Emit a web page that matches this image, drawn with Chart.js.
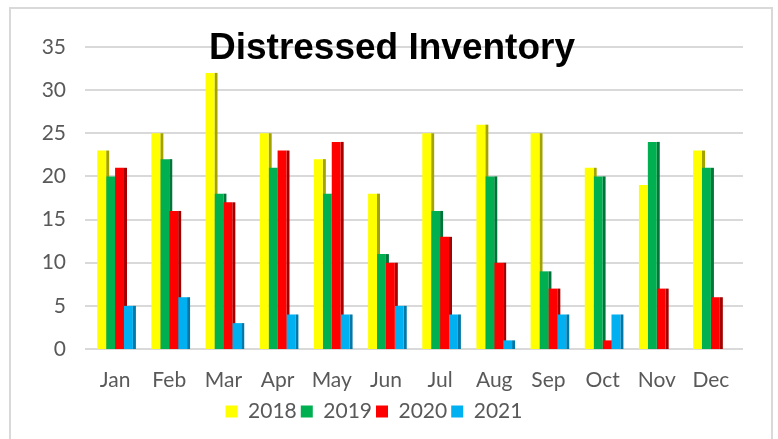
<!DOCTYPE html>
<html>
<head>
<meta charset="utf-8">
<script src="https://cdn.jsdelivr.net/npm/chart.js@4.4.1/dist/chart.umd.min.js"></script>
<style>
  html, body { margin: 0; padding: 0; background: #fff; }
  #wrap { width: 778px; height: 439px; position: relative; }
</style>
</head>
<body>
<div id="wrap"><canvas id="distChart" width="778" height="439"></canvas></div>
<script>
const months = ['Jan', 'Feb', 'Mar', 'Apr', 'May', 'Jun', 'Jul', 'Aug', 'Sep', 'Oct', 'Nov', 'Dec'];
const years = ['2018', '2019', '2020', '2021'];
const y2018 = [23, 25, 32, 25, 22, 18, 25, 26, 25, 21, 19, 23];
const y2019 = [20, 22, 18, 21, 18, 11, 16, 20, 9, 20, 24, 21];
const y2020 = [21, 16, 17, 23, 24, 10, 13, 10, 7, 1, 7, 6];
const y2021 = [5, 6, 3, 4, 4, 5, 4, 1, 4, 4, null, null];
const yTicks = [0, 5, 10, 15, 20, 25, 30, 35];

const fronts = ['#ffff00', '#00b050', '#ff0000', '#00b0f0'];
const sides = ['#a3a300', '#00753a', '#a30000', '#0078a8'];
const labelFont = { family: 'Lato', size: 21 };
const gray = '#595959';

// frame + gridlines + 3d side faces, drawn behind the bars
const backdrop = {
    id: 'backdrop',
    beforeDraw(chart) {
        const c = chart.ctx;
        c.save();
        c.strokeStyle = '#d9d9d9';
        c.lineWidth = 2;
        c.strokeRect(10, 8, 762, 440);
        c.restore();
    },
    beforeDatasetsDraw(chart) {
        const c = chart.ctx;
        const ys = chart.scales.y;
        const area = chart.chartArea;
        c.save();
        c.strokeStyle = '#d9d9d9';
        c.lineWidth = 2;
        yTicks.forEach(t => {
            const py = Math.round(ys.getPixelForValue(t));
            c.beginPath();
            c.moveTo(area.left - 3, py);
            c.lineTo(area.right + 5, py);
            c.stroke();
        });
        chart.data.datasets.forEach((ds, i) => {
            const meta = chart.getDatasetMeta(i);
            c.fillStyle = sides[i];
            meta.data.forEach((bar, j) => {
                if (ds.data[j] == null) return;
                const p = bar.getProps(['x', 'y', 'width', 'base'], true);
                const r = p.x + p.width / 2;
                c.fillRect(r, p.y, 3, p.base - p.y);
            });
        });
        c.restore();
    },
    afterDatasetsDraw(chart) {
        const c = chart.ctx;
        c.save();
        c.fillStyle = '#000';
        c.font = 'bold 37px "Liberation Sans", Arial, sans-serif';
        c.textAlign = 'center';
        c.textBaseline = 'middle';
        c.fillText('Distressed Inventory', 392, 49);
        c.restore();
    }
};

const ctx = document.getElementById('distChart').getContext('2d');

const distChart = new Chart(ctx, {
    type: 'bar',
    data: {
        labels: months,
        datasets: [y2018, y2019, y2020, y2021].map((d, i) => ({
            label: years[i],
            data: d,
            backgroundColor: fronts[i],
            borderWidth: 0,
            barPercentage: 1,
            categoryPercentage: 0.658
        }))
    },
    options: {
        responsive: false,
        animation: false,
        layout: { padding: { left: 10, right: 40, top: 47, bottom: 7 } },
        scales: {
            x: {
                afterFit: s => { s.height = 48; },
                grid: { display: false, drawTicks: false },
                border: { display: false },
                ticks: { color: gray, font: labelFont, padding: 19, maxRotation: 0 }
            },
            y: {
                min: 0,
                max: 35,
                afterFit: s => { s.width = 78; },
                grid: { display: false, drawTicks: false },
                border: { display: false },
                ticks: { stepSize: 5, color: gray, font: labelFont, padding: 22 }
            }
        },
        plugins: {
            legend: {
                position: 'bottom',
                labels: {
                    color: gray,
                    font: labelFont,
                    boxWidth: 12,
                    boxHeight: 12,
                    padding: 4
                }
            },
            tooltip: { enabled: false }
        }
    },
    plugins: [backdrop]
});
</script>
</body>
</html>
